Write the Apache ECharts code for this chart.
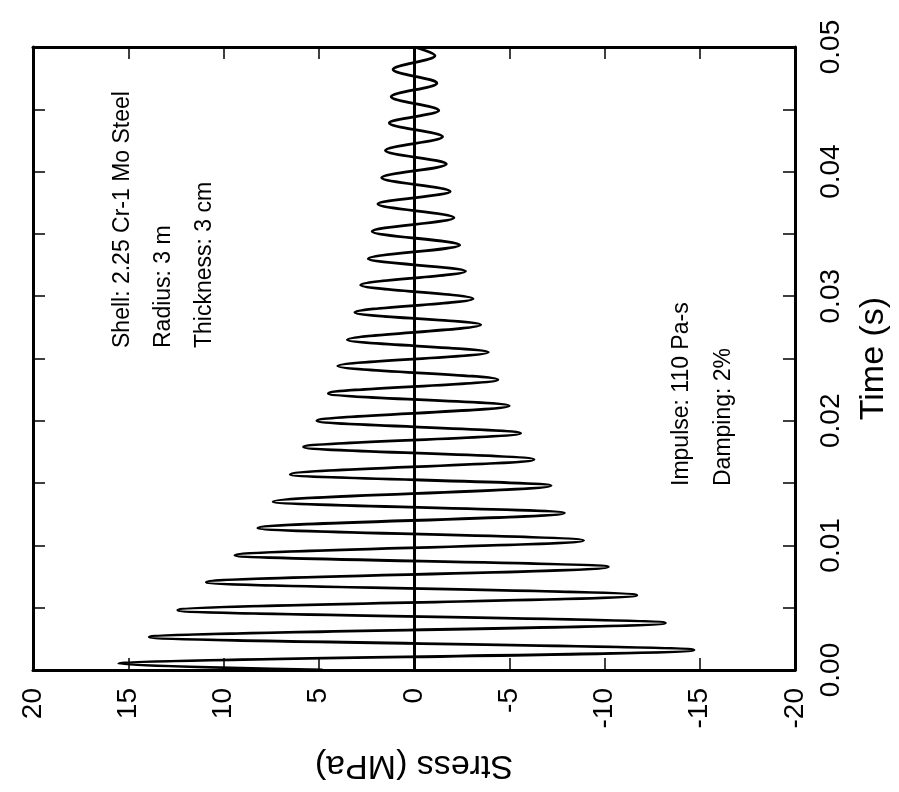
<!DOCTYPE html>
<html>
<head>
<meta charset="utf-8">
<script src="https://cdn.jsdelivr.net/npm/echarts@6/dist/echarts.min.js"></script>
<style>
  html, body { margin: 0; padding: 0; background: #fff; }
  #chart { width: 899px; height: 792px; }
</style>
</head>
<body>
<div id="chart"></div>
<script>
// Shell stress response after an impulse load (figure drawn turned 90°:
// time runs up the right edge, stress runs along the bottom, 20 on the left).

// Extrema of the ringing response: time (s) and hoop stress (MPa)
const peakTime = [
  0.0000, 0.0005, 0.0016, 0.00264, 0.00377, 0.0048, 0.0060, 0.00705, 0.00827, 0.0092,
  0.0104, 0.0114, 0.0126, 0.0135, 0.0148, 0.0157, 0.0169, 0.0179, 0.0190, 0.0200,
  0.0212, 0.0222, 0.0233, 0.0244, 0.0255, 0.0265, 0.0277, 0.0287, 0.0298, 0.0309,
  0.0320, 0.0330, 0.0341, 0.0352, 0.0363, 0.0374, 0.0384, 0.0395, 0.0406, 0.0417,
  0.0428, 0.0439, 0.0449, 0.0460, 0.0471, 0.0482, 0.0493, 0.0500
];
const peakStress = [
  4.8, 15.5, -14.7, 13.9, -13.2, 12.4, -11.7, 10.9, -10.2, 9.4,
  -8.9, 8.2, -7.9, 7.4, -7.2, 6.5, -6.3, 5.8, -5.6, 5.1,
  -5.0, 4.5, -4.4, 4.0, -3.9, 3.5, -3.5, 3.1, -3.1, 2.8,
  -2.7, 2.4, -2.4, 2.2, -2.1, 1.9, -1.9, 1.7, -1.7, 1.5,
  -1.5, 1.3, -1.3, 1.2, -1.2, 1.1, -1.1, 0.0
];

// Axis settings
const stressRange = [-20, 20];
const stressStep = 5;
const timeRange = [0, 0.05];
const timeStep = 0.005;

// Annotation lines
const shellNotes = ['Shell: 2.25 Cr-1 Mo Steel', 'Radius: 3 m', 'Thickness: 3 cm'];
const loadNotes = ['Impulse: 110 Pa-s', 'Damping: 2%'];

const FONT = 'Liberation Sans, Arial, Helvetica, sans-serif';
const INK = '#000';

const chart = echarts.init(document.getElementById('chart'));

const frameLine = { show: true, onZero: false, lineStyle: { color: INK, width: 3 } };
const innerTicks = { show: true, inside: true, length: 12, lineStyle: { color: INK, width: 1.5 } };

const response = peakTime.map((t, i) => [peakStress[i], t]);

const notes = [];
shellNotes.forEach((txt, i) => {
  notes.push({
    type: 'text', x: 123 + i * 41, y: 348, rotation: Math.PI / 2,
    style: { text: txt, font: '23px ' + FONT, fill: INK, textAlign: 'left', textVerticalAlign: 'middle' }
  });
});
loadNotes.forEach((txt, i) => {
  notes.push({
    type: 'text', x: 682 + i * 42, y: 486, rotation: Math.PI / 2,
    style: { text: txt, font: '23px ' + FONT, fill: INK, textAlign: 'left', textVerticalAlign: 'middle' }
  });
});

chart.setOption({
  backgroundColor: '#fff',
  animation: false,
  grid: { left: 33, right: 99, top: 47, bottom: 122, containLabel: false },
  xAxis: [
    {
      type: 'value', position: 'bottom', inverse: true,
      min: stressRange[0], max: stressRange[1], interval: stressStep,
      axisLine: frameLine, axisTick: innerTicks, splitLine: { show: false },
      axisLabel: { rotate: 90, margin: 18, fontSize: 28, fontFamily: FONT, color: INK },
      name: 'Stress (MPa)', nameLocation: 'middle', nameRotate: 180, nameGap: 78,
      nameTextStyle: { fontSize: 34, fontFamily: FONT, color: INK }
    },
    {
      type: 'value', position: 'top', inverse: true,
      min: stressRange[0], max: stressRange[1], interval: stressStep,
      axisLine: frameLine, axisTick: innerTicks, splitLine: { show: false },
      axisLabel: { show: false }
    }
  ],
  yAxis: [
    {
      type: 'value', position: 'right',
      min: timeRange[0], max: timeRange[1], interval: timeStep,
      axisLine: frameLine, axisTick: innerTicks, splitLine: { show: false },
      axisLabel: {
        rotate: 90, margin: 22, fontSize: 28, fontFamily: FONT, color: INK,
        formatter: v => (Math.round(v / timeStep) % 2 === 0 ? v.toFixed(2) : '')
      },
      name: 'Time (s)', nameLocation: 'middle', nameRotate: 90, nameGap: 62,
      nameTextStyle: { fontSize: 34, fontFamily: FONT, color: INK }
    },
    {
      type: 'value', position: 'left',
      min: timeRange[0], max: timeRange[1], interval: timeStep,
      axisLine: frameLine, axisTick: innerTicks, splitLine: { show: false },
      axisLabel: { show: false }
    }
  ],
  series: [
    {
      type: 'line', xAxisIndex: 0, yAxisIndex: 0,
      data: response,
      showSymbol: false, symbol: 'none',
      smooth: 0.33, smoothMonotone: 'y',
      lineStyle: { color: INK, width: 2.8 },
      markLine: {
        silent: true, symbol: 'none', label: { show: false },
        lineStyle: { color: INK, width: 3, type: 'solid' },
        data: [{ xAxis: 0 }]
      }
    }
  ],
  graphic: notes
});
</script>
</body>
</html>
